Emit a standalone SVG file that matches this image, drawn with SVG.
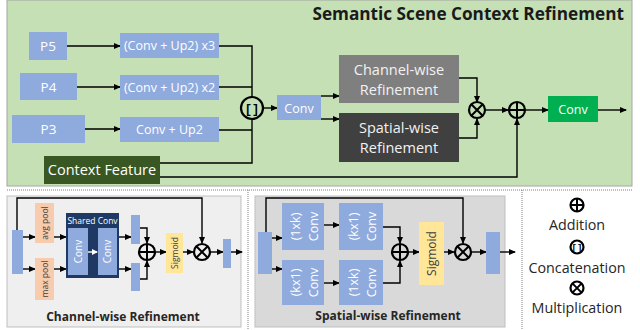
<svg xmlns="http://www.w3.org/2000/svg" width="640" height="330" viewBox="0 0 640 330">
<defs>
<marker id="ah" markerWidth="7" markerHeight="6" refX="6" refY="3" orient="auto" markerUnits="userSpaceOnUse"><path d="M0,0 L7,3 L0,6 z" fill="#000"/></marker>
<marker id="ahw" markerWidth="6" markerHeight="6" refX="5" refY="3" orient="auto" markerUnits="userSpaceOnUse"><path d="M0,0 L6,3 L0,6 z" fill="#fff"/></marker>
<style>
text{font-family:"Open Sans","Noto Sans","Liberation Sans",sans-serif}
.blue{fill:#8faadc}
.wt{fill:#fff;text-anchor:middle}
.dt{fill:#404040;text-anchor:middle}
.ln{fill:none;stroke:#000;stroke-width:1.4}
.ar{fill:none;stroke:#000;stroke-width:1.4;marker-end:url(#ah)}
.op{fill:none;stroke:#000;stroke-width:2}
.opf{stroke:#000;stroke-width:2.2}
.lbl{font-weight:bold;font-size:12px;fill:#262626;text-anchor:middle}
.pool{fill:#f8cbad}
.sig{fill:#ffe699}
.dot{stroke:#808080;stroke-width:1;stroke-dasharray:1,1;fill:none}
</style>
</defs>

<!-- panels -->
<rect x="7" y="0" width="625" height="186" fill="#c5e0b4" stroke="#a6a6a6" stroke-width="1"/>
<text x="624" y="20" font-size="17.2" font-weight="bold" fill="#1a1a1a" text-anchor="end">Semantic Scene Context Refinement</text>
<line x1="7" y1="190" x2="632" y2="190" class="dot"/>
<line x1="248" y1="190" x2="248" y2="330" class="dot"/>
<line x1="522" y1="190" x2="522" y2="330" class="dot"/>
<rect x="7" y="196" width="234" height="131" fill="#efefef" stroke="#bfbfbf" stroke-width="1"/>
<rect x="255" y="196" width="250" height="131" fill="#d9d9d9" stroke="#bfbfbf" stroke-width="1"/>

<!-- connectors -->
<g id="connectors">
<line x1="67" y1="46" x2="120" y2="46" class="ar"/>
<line x1="77" y1="87" x2="120" y2="87" class="ar"/>
<line x1="85" y1="129" x2="120" y2="129" class="ar"/>
<polyline points="219,46 252,46 252,163 160,163" class="ln"/>
<line x1="219" y1="87" x2="252" y2="87" class="ln"/>
<line x1="219" y1="130" x2="252" y2="130" class="ln"/>
<line x1="263" y1="108" x2="277" y2="108" class="ar"/>
<line x1="321" y1="96" x2="339" y2="96" class="ar"/>
<line x1="321" y1="119" x2="339" y2="119" class="ar"/>
<polyline points="459,78 477,78 477,102" class="ar"/>
<polyline points="459,138 477,138 477,119" class="ar"/>
<line x1="486" y1="110" x2="508" y2="110" class="ar"/>
<line x1="526" y1="110" x2="548" y2="110" class="ar"/>
<line x1="598" y1="110" x2="626" y2="110" class="ar"/>
<polyline points="160,177 517,177 517,119" class="ar"/>

<!-- channel-wise -->
<line x1="23" y1="237" x2="35" y2="237" class="ar"/>
<line x1="23" y1="269" x2="35" y2="269" class="ar"/>
<line x1="54" y1="237" x2="66" y2="237" class="ar"/>
<line x1="54" y1="269" x2="66" y2="269" class="ar"/>
<line x1="119" y1="237" x2="131" y2="237" class="ar"/>
<line x1="119" y1="269" x2="131" y2="269" class="ar"/>
<polyline points="140,228 147,228 147,243" class="ar"/>
<polyline points="140,279 147,279 147,261" class="ar"/>
<line x1="156" y1="252" x2="166" y2="252" class="ar"/>
<line x1="183" y1="252" x2="193" y2="252" class="ar"/>
<polyline points="17,230 17,198 202,198 202,243" class="ar"/>
<line x1="211" y1="252" x2="223" y2="252" class="ar"/>
<line x1="231" y1="252" x2="242" y2="252" class="ar"/>

<!-- spatial-wise -->
<polyline points="266,232 266,198 463,198 463,243" class="ar"/>
<line x1="272" y1="238" x2="282" y2="238" class="ar"/>
<line x1="272" y1="269" x2="282" y2="269" class="ar"/>
<line x1="324" y1="225" x2="339" y2="225" class="ar"/>
<line x1="324" y1="283" x2="339" y2="283" class="ar"/>
<polyline points="383,227 400,227 400,243" class="ar"/>
<polyline points="383,283 400,283 400,261" class="ar"/>
<line x1="409" y1="252" x2="419" y2="252" class="ar"/>
<line x1="444" y1="252" x2="454" y2="252" class="ar"/>
<line x1="472" y1="252" x2="486" y2="252" class="ar"/>
<line x1="500" y1="252" x2="515" y2="252" class="ar"/>
</g>

<!-- top nodes -->
<g id="p5"><rect x="29" y="32" width="38" height="28" class="blue"/><text x="48" y="51" font-size="13.5" class="wt">P5</text></g>
<g id="p4"><rect x="20" y="73" width="57" height="27" class="blue"/><text x="48.5" y="91.5" font-size="13.5" class="wt">P4</text></g>
<g id="p3"><rect x="12" y="115" width="73" height="28" class="blue"/><text x="48.5" y="134" font-size="13.5" class="wt">P3</text></g>
<g id="ctx"><rect x="44" y="156" width="116" height="28" fill="#385723"/><text x="102" y="175" font-size="14.5" class="wt">Context Feature</text></g>
<g id="up3"><rect x="120" y="33" width="99" height="25" class="blue"/><text x="169.5" y="50" font-size="12.5" class="wt">(Conv + Up2) x3</text></g>
<g id="up2"><rect x="120" y="75" width="99" height="25" class="blue"/><text x="169.5" y="92" font-size="12.5" class="wt">(Conv + Up2) x2</text></g>
<g id="up1"><rect x="120" y="117" width="99" height="25" class="blue"/><text x="169.5" y="134" font-size="12.5" class="wt">Conv + Up2</text></g>
<g id="concat"><circle cx="252" cy="108" r="11" fill="#c5e0b4" class="opf"/><text x="252" y="112.5" font-size="12" font-weight="bold" text-anchor="middle" style="font-family:'Liberation Mono',monospace">[]</text></g>
<g id="conv1"><rect x="277" y="95" width="44" height="25" class="blue"/><text x="299" y="112.5" font-size="12.5" class="wt">Conv</text></g>
<g id="cwr"><rect x="339" y="55" width="120" height="48" fill="#7f7f7f"/><text x="399" y="75" font-size="14.5" fill="#f2f2f2" text-anchor="middle">Channel-wise</text><text x="399" y="95" font-size="14.5" fill="#f2f2f2" text-anchor="middle">Refinement</text></g>
<g id="swr"><rect x="339" y="113" width="120" height="49" fill="#404040"/><text x="399" y="133" font-size="14.5" fill="#f2f2f2" text-anchor="middle">Spatial-wise</text><text x="399" y="153" font-size="14.5" fill="#f2f2f2" text-anchor="middle">Refinement</text></g>
<g id="mul1"><circle cx="477" cy="110" r="8" fill="#c5e0b4" class="opf"/><path d="M471.3,104.3 L482.7,115.7 M482.7,104.3 L471.3,115.7" class="op" stroke-width="1.6"/></g>
<g id="add1"><circle cx="517" cy="110" r="8" fill="#c5e0b4" class="opf"/><path d="M517,102 V118 M509,110 H525" class="op"/></g>
<g id="conv2"><rect x="548" y="96" width="50" height="26" fill="#00b050"/><text x="573" y="114" font-size="12.5" class="wt">Conv</text></g>

<!-- channel-wise nodes -->
<g id="cw-in"><rect x="12" y="230" width="11" height="44" class="blue"/></g>
<g id="cw-avg"><rect x="35" y="203" width="19" height="40" class="pool"/><text transform="translate(47.5,223) rotate(-90)" font-size="8.5" class="dt">avg  pool</text></g>
<g id="cw-max"><rect x="35" y="258" width="19" height="42" class="pool"/><text transform="translate(47.5,279) rotate(-90)" font-size="8.5" class="dt">max  pool</text></g>
<g id="cw-shared"><rect x="66" y="213" width="53" height="65" fill="#203864"/><text x="92.5" y="224" font-size="8.5" class="wt">Shared Conv</text>
<rect x="68" y="228" width="20" height="47" class="blue"/><text transform="translate(81.5,251.5) rotate(-90)" font-size="10" class="wt">Conv</text>
<rect x="98" y="228" width="19" height="47" class="blue"/><text transform="translate(111,251.5) rotate(-90)" font-size="10" class="wt">Conv</text>
<line x1="88" y1="252" x2="97" y2="252" stroke="#fff" stroke-width="1.4" marker-end="url(#ahw)"/></g>
<g id="cw-b1"><rect x="131" y="215" width="9" height="29" class="blue"/></g>
<g id="cw-b2"><rect x="131" y="263" width="9" height="28" class="blue"/></g>
<g id="cw-add"><circle cx="147" cy="252" r="8" fill="#efefef" class="opf"/><path d="M147,244 V260 M139,252 H155" class="op"/></g>
<g id="cw-sig"><rect x="166" y="233" width="17" height="40" class="sig"/><text transform="translate(178,253) rotate(-90)" font-size="8.5" class="dt">Sigmoid</text></g>
<g id="cw-mul"><circle cx="202" cy="252" r="8" fill="#efefef" class="opf"/><path d="M196.3,246.3 L207.7,257.7 M207.7,246.3 L196.3,257.7" class="op" stroke-width="1.6"/></g>
<g id="cw-out"><rect x="223" y="239" width="8" height="29" class="blue"/></g>
<text x="123" y="321" class="lbl">Channel-wise Refinement</text>

<!-- spatial-wise nodes -->
<g id="sw-in"><rect x="258" y="232" width="14" height="42" class="blue"/></g>
<g id="sw-c1"><rect x="282" y="203" width="42" height="47" class="blue"/><text transform="translate(300,226.5) rotate(-90)" font-size="12.5" class="wt">(1xk)</text><text transform="translate(318,226.5) rotate(-90)" font-size="12.5" class="wt">Conv</text></g>
<g id="sw-c2"><rect x="339" y="203" width="44" height="47" class="blue"/><text transform="translate(358,226.5) rotate(-90)" font-size="12.5" class="wt">(kx1)</text><text transform="translate(376,226.5) rotate(-90)" font-size="12.5" class="wt">Conv</text></g>
<g id="sw-c3"><rect x="282" y="260" width="42" height="45" class="blue"/><text transform="translate(300,282.5) rotate(-90)" font-size="12.5" class="wt">(kx1)</text><text transform="translate(318,282.5) rotate(-90)" font-size="12.5" class="wt">Conv</text></g>
<g id="sw-c4"><rect x="339" y="260" width="44" height="45" class="blue"/><text transform="translate(358,282.5) rotate(-90)" font-size="12.5" class="wt">(1xk)</text><text transform="translate(376,282.5) rotate(-90)" font-size="12.5" class="wt">Conv</text></g>
<g id="sw-add"><circle cx="400" cy="252" r="8" fill="#d9d9d9" class="opf"/><path d="M400,244 V260 M392,252 H408" class="op"/></g>
<g id="sw-sig"><rect x="419" y="222" width="25" height="63" class="sig"/><text transform="translate(435.5,253.5) rotate(-90)" font-size="12" class="dt">Sigmoid</text></g>
<g id="sw-mul"><circle cx="463" cy="252" r="8" fill="#d9d9d9" class="opf"/><path d="M457.3,246.3 L468.7,257.7 M468.7,246.3 L457.3,257.7" class="op" stroke-width="1.6"/></g>
<g id="sw-out"><rect x="486" y="232" width="14" height="42" class="blue"/></g>
<text x="388" y="320" class="lbl">Spatial-wise Refinement</text>

<!-- legend -->
<g id="legend">
<circle cx="577" cy="205" r="6.5" fill="#fff" class="opf"/><path d="M577,198.5 V211.5 M570.5,205 H583.5" class="op"/>
<text x="577" y="230" font-size="14.3" class="dt" style="fill:#262626">Addition</text>
<circle cx="577" cy="247" r="6.5" fill="#fff" class="opf"/><text x="577" y="250.5" font-size="9" font-weight="bold" text-anchor="middle" style="font-family:'Liberation Mono',monospace">[]</text>
<text x="577" y="273" font-size="14.3" class="dt" style="fill:#262626">Concatenation</text>
<circle cx="577" cy="288" r="6.5" fill="#fff" class="opf"/><path d="M572.4,283.4 L581.6,292.6 M581.6,283.4 L572.4,292.6" class="op" stroke-width="1.6"/>
<text x="577" y="313" font-size="14.3" class="dt" style="fill:#262626">Multiplication</text>
</g>
</svg>
